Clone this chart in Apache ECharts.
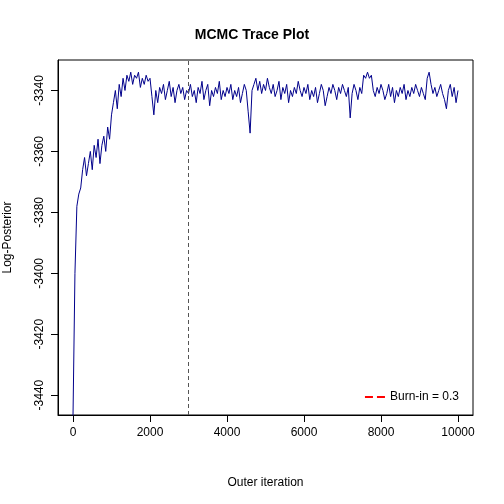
<!DOCTYPE html><html><head><meta charset="utf-8"><script src="https://cdn.jsdelivr.net/npm/echarts@6/dist/echarts.min.js"></script></head><body style="margin:0"><div id="c" style="width:504px;height:504px"></div><script>
const step=50;
const logPost=[-3447,-3400,-3378,-3374,-3372,-3366,-3362,-3368,-3364,-3360,-3366,-3358,-3362,-3356,-3364,-3358,-3355,-3360,-3352,-3356,-3348,
-3344,-3340,-3346,-3338,-3342,-3336,-3340,-3335,-3337,-3334,-3338,-3335,-3336,-3334,-3339,-3336,-3338,-3335,-3337,-3336,
-3342,-3348,-3340,-3344,-3339,-3341,-3338,-3343,-3340,-3337,-3342,-3339,-3344,-3340,-3338,-3341,-3339,-3343,-3340,-3341,
-3338,-3342,-3340,-3344,-3339,-3341,-3337,-3343,-3340,-3338,-3345,-3340,-3342,-3339,-3341,-3337,-3343,-3340,-3342,-3339,
-3341,-3338,-3343,-3340,-3342,-3339,-3344,-3341,-3338,-3340,-3347,-3354,-3340,-3338,-3336,-3340,-3337,-3341,-3338,-3340,
-3336,-3339,-3341,-3338,-3342,-3340,-3337,-3343,-3339,-3341,-3338,-3344,-3340,-3342,-3339,-3341,-3337,-3340,-3342,-3339,
-3341,-3338,-3343,-3340,-3342,-3339,-3344,-3341,-3338,-3340,-3345,-3342,-3339,-3341,-3338,-3340,-3343,-3339,-3341,-3338,
-3340,-3342,-3339,-3349,-3341,-3338,-3340,-3343,-3339,-3341,-3335,-3336,-3334,-3336,-3335,-3340,-3342,-3339,-3341,-3338,
-3340,-3343,-3341,-3338,-3342,-3339,-3344,-3340,-3342,-3339,-3341,-3338,-3343,-3340,-3342,-3339,-3341,-3338,-3340,-3342,
-3339,-3341,-3343,-3336,-3334,-3338,-3341,-3339,-3342,-3340,-3338,-3341,-3343,-3346,-3340,-3338,-3342,-3339,-3344,-3340];
const xTicks=[0,2000,4000,6000,8000,10000];
const yTicks=[-3440,-3420,-3400,-3380,-3360,-3340];
const burnIn=3000;
const data=logPost.map((v,i)=>[i*step,v]);
const f='Liberation Sans, Arial, sans-serif';
const ch=echarts.init(document.getElementById('c'));
ch.setOption({animation:false,
title:{text:'MCMC Trace Plot',left:'center',top:23,textStyle:{fontFamily:f,fontSize:14,fontWeight:'bold',color:'#000'}},
grid:{left:58,right:31,top:60,bottom:89,show:true,borderColor:'#000',borderWidth:1,containLabel:false,outerBoundsMode:'none'},
xAxis:{type:'value',min:-390,max:10390,name:'Outer iteration',nameLocation:'middle',nameGap:62,nameTextStyle:{fontFamily:f,fontSize:12,color:'#000'},
axisLine:{show:true,onZero:false,lineStyle:{color:'#000'}},splitLine:{show:false},
axisTick:{show:true,inside:false,length:7,lineStyle:{color:'#000'},customValues:xTicks},
axisLabel:{fontFamily:f,fontSize:12,color:'#000',margin:12,formatter:v=>String(v),customValues:xTicks}},
yAxis:{type:'value',min:-3446.5,max:-3330,name:'Log-Posterior',nameLocation:'middle',nameGap:44,nameTextStyle:{fontFamily:f,fontSize:12,color:'#000'},
axisLine:{show:true,onZero:false,lineStyle:{color:'#000'}},splitLine:{show:false},
axisTick:{show:true,inside:false,length:7,lineStyle:{color:'#000'},customValues:yTicks},
axisLabel:{fontFamily:f,fontSize:12,color:'#000',rotate:90,margin:12,formatter:v=>String(v),customValues:yTicks}},
legend:{right:40,bottom:96,itemWidth:20,data:[{name:'Burn-in = 0.3',icon:'path://M0,0H8V2H0ZM12,0H20V2H12Z'}],textStyle:{fontFamily:f,fontSize:12,color:'#000'},itemStyle:{color:'#ff0000'}},
series:[{type:'line',data:data,showSymbol:false,lineStyle:{color:'#00008b',width:1},
markLine:{symbol:'none',silent:true,label:{show:false},lineStyle:{color:'#555',type:[4,3],width:1},data:[{xAxis:burnIn}]}},
{name:'Burn-in = 0.3',type:'line',data:[],lineStyle:{color:'#ff0000',type:'dashed'},itemStyle:{color:'#ff0000'}}]});
</script></body></html>
